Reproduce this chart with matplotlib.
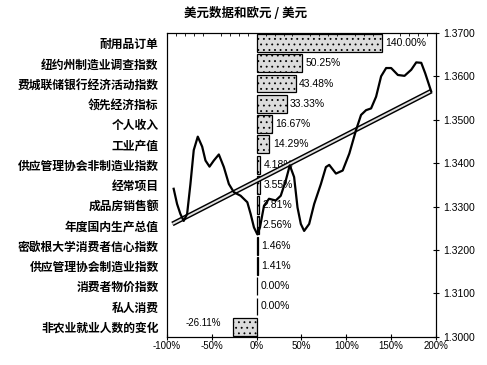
import matplotlib
matplotlib.use("Agg")
import matplotlib.pyplot as plt
from matplotlib.ticker import FuncFormatter, MultipleLocator

plt.rcParams['font.family'] = ['Noto Sans CJK SC', 'DejaVu Sans']
plt.rcParams['hatch.color'] = '#b5b5b5'
plt.rcParams['hatch.linewidth'] = 0.6

categories = ["耐用品订单", "纽约州制造业调查指数", "费城联储银行经济活动指数", "领先经济指标",
              "个人收入", "工业产值", "供应管理协会非制造业指数", "经常项目", "成品房销售额",
              "年度国内生产总值", "密歇根大学消费者信心指数", "供应管理协会制造业指数",
              "消费者物价指数", "私人消费", "非农业就业人数的变化"]
changes = [140.00, 50.25, 43.48, 33.33, 16.67, 14.29, 4.18, 3.55, 2.81, 2.56, 1.46, 1.41,
           0.00, 0.00, -26.11]

# EUR/USD curve, drawn against the percentage axis
eur_x = [-92.6, -88.8, -85.1, -81.4, -77.6, -73.9, -70.2, -65.7, -60.8, -57.1, -52.6, -47.8,
         -42.2, -36.6, -31.0, -25.4, -17.9, -10.4, -6.7, -3.0, 0.8, 3.7, 8.2, 13.8, 21.3,
         26.9, 32.5, 37.0, 41.8, 45.6, 49.3, 53.0, 58.6, 64.2, 71.7, 77.3, 81.0, 88.5, 96.0,
         103.4, 110.9, 116.5, 122.1, 127.7, 133.3, 138.9, 144.5, 150.1, 157.6, 165.0, 172.5,
         178.1, 183.7, 188.1, 194.8]
eur_y = [1.3341, 1.3306, 1.3283, 1.3267, 1.3283, 1.3352, 1.3430, 1.3461, 1.3438, 1.3406,
         1.3392, 1.3406, 1.3420, 1.3391, 1.3352, 1.3333, 1.3325, 1.3310, 1.3283, 1.3252,
         1.3236, 1.3252, 1.3302, 1.3318, 1.3314, 1.3325, 1.3360, 1.3395, 1.3368, 1.3298,
         1.3260, 1.3244, 1.3260, 1.3306, 1.3352, 1.3391, 1.3396, 1.3376, 1.3383, 1.3422,
         1.3476, 1.3511, 1.3522, 1.3526, 1.3553, 1.3600, 1.3619, 1.3619, 1.3603, 1.3601,
         1.3615, 1.3632, 1.3631, 1.3607, 1.3565]
trend_x = [-94, 195]
trend_y = [1.3260, 1.3566]

fig = plt.figure(figsize=(4.87, 3.65), dpi=100)
ax = fig.add_axes([0.343, 0.077, 0.552, 0.833])

rows = list(range(len(categories)))
ax.barh(rows, changes, height=0.88, color='#dcdcdc', edgecolor='black', linewidth=0.9,
        hatch='...')
for r, v in zip(rows, changes):
    if v < 0:
        ax.text(v - 14, r - 0.2, f"{v:.2f}%", ha='right', va='center', fontsize=7,
                family='Liberation Sans')
    else:
        ax.text(v + 4, r, f"{v:.2f}%", ha='left', va='center', fontsize=7.5,
                family='Liberation Sans')

ax.set_xlim(-100, 200)
ax.set_ylim(len(categories) - 0.5, -0.5)
ax.set_yticks(rows)
ax.set_yticklabels(categories, fontsize=8.5, fontweight='bold')
ax.tick_params(axis='y', length=0, pad=6)
ax.xaxis.set_major_locator(MultipleLocator(50))
ax.xaxis.set_minor_locator(MultipleLocator(10))
ax.xaxis.set_major_formatter(FuncFormatter(lambda v, p: f"{v:.0f}%"))
ax.tick_params(axis='x', which='major', direction='inout', length=4, labelsize=7, pad=1)
ax.tick_params(axis='x', which='minor', top=True, bottom=False, direction='in', length=2)
for lab in ax.get_xticklabels():
    lab.set_family('Liberation Sans')

ax2 = ax.twinx()
ax2.plot(trend_x, trend_y, color='black', linewidth=3.5, solid_capstyle='butt')
ax2.plot(trend_x, trend_y, color='#e0e0e0', linewidth=1.4, solid_capstyle='butt')
ax2.plot(eur_x, eur_y, color='black', linewidth=1.6, solid_joinstyle='round')
ax2.set_ylim(1.30, 1.37)
ax2.yaxis.set_major_locator(MultipleLocator(0.01))
ax2.yaxis.set_major_formatter(FuncFormatter(lambda v, p: f"{v:.4f}"))
ax2.tick_params(axis='y', direction='inout', length=4, labelsize=7.5, pad=3)
for lab in ax2.get_yticklabels():
    lab.set_family('Liberation Sans')

fig.text(0.505, 0.962, "美元数据和欧元 / 美元", ha='center', va='center', fontsize=9,
         fontweight='bold')

fig.savefig("out.png", dpi=100)
